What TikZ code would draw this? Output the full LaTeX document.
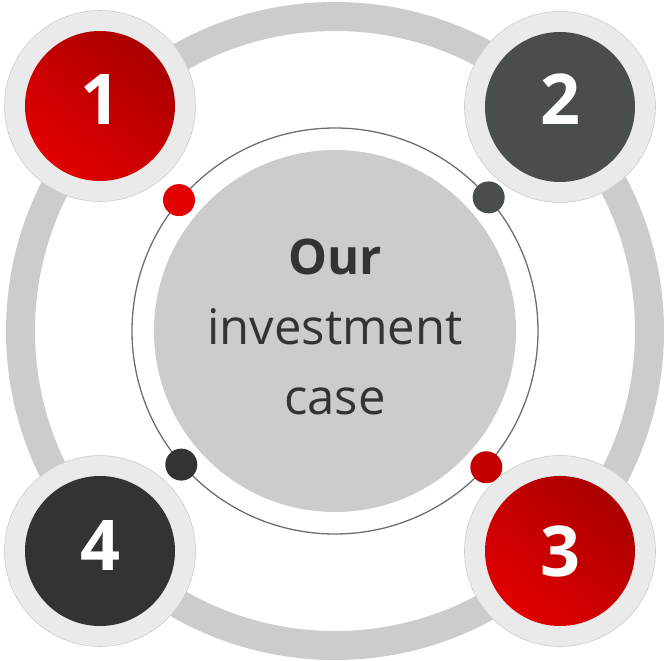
\documentclass[tikz,border=0pt]{standalone}
\usepackage{fontspec}
\setmainfont{Open Sans}
\definecolor{ringgray}{RGB}{204, 204, 204}
\definecolor{rimgray}{RGB}{234, 234, 234}
\definecolor{rimline}{RGB}{205, 205, 205}
\definecolor{orbitgray}{RGB}{110, 110, 110}
\definecolor{deepred}{RGB}{170, 0, 0}
\definecolor{brightred}{RGB}{226, 0, 0}
\definecolor{dotred}{RGB}{196, 0, 0}
\definecolor{slate}{RGB}{74, 77, 78}
\definecolor{charcoal}{RGB}{51, 51, 51}

\begin{document}
\begin{tikzpicture}[x=1pt, y=1pt,
  rim/.style={circle, draw=rimline, line width=0.6pt, fill=rimgray,
              minimum size=191pt, inner sep=0pt},
  ball/.style={circle, minimum size=150pt, inner sep=0pt},
  redball/.style={ball, top color=deepred, bottom color=brightred, shading angle=-40},
  num/.style={font=\fontsize{70}{70}\selectfont\bfseries, text=white, anchor=base},
  word/.style={font=\fontsize{49}{70}\selectfont, text=charcoal, anchor=base},
  dot/.style={circle, minimum size=32pt, inner sep=0pt},
]
\useasboundingbox (-335,-330) rectangle (330,331);

% Outer ring
\node[circle, draw=ringgray, line width=29pt, minimum size=629pt, inner sep=0pt] (ring) at (0,0) {};

% Orbit and hub
\node[circle, draw=orbitgray, line width=1.3pt, minimum size=406pt, inner sep=0pt] (orbit) at (0,0) {};
\node[circle, fill=ringgray, minimum size=362pt, inner sep=0pt] (hub) at (0,0) {};

\node[word] (our) at (0,56) {\textbf{Our}};
\node[word] (inv) at (0,-14) {investment};
\node[word] (case) at (0,-84) {case};

% Dots on the orbit
\node[dot, fill=brightred] (d1) at (orbit.140) {};
\node[dot, fill=slate] (d2) at (orbit.41) {};
\node[dot, fill=dotred] (d3) at (orbit.-42) {};
\node[dot, fill=charcoal] (d4) at (orbit.221) {};

% Numbered circles
\node[rim] (r1) at (-235,225) {};
\node[redball] (b1) at (r1) {};
\node[num] (n1) at (-235,206) {1};

\node[rim] (r2) at (225,224) {};
\node[ball, fill=slate] (b2) at (r2) {};
\node[num] (n2) at (225,206) {2};

\node[rim] (r3) at (225,-220) {};
\node[redball] (b3) at (r3) {};
\node[num] (n3) at (225,-246) {3};

\node[rim] (r4) at (-235,-220) {};
\node[ball, fill=charcoal] (b4) at (r4) {};
\node[num] (n4) at (-235,-240) {4};
\end{tikzpicture}
\end{document}
